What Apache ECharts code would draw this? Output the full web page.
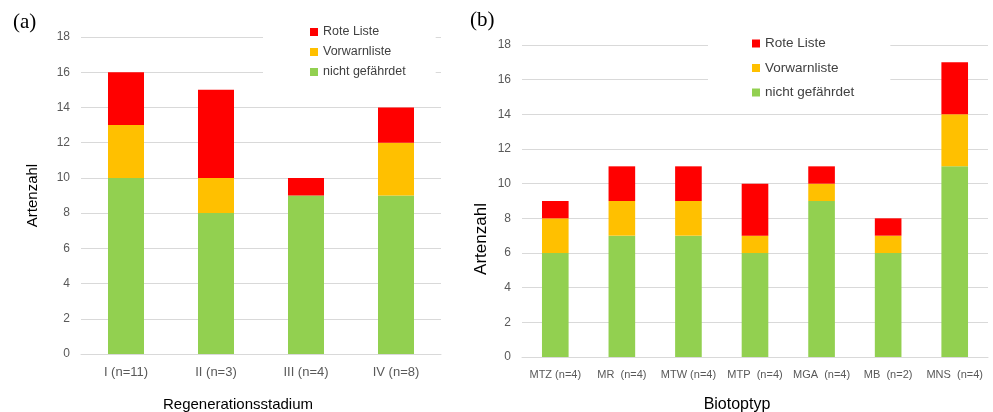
<!DOCTYPE html>
<html>
<head>
<meta charset="utf-8">
<script src="https://cdn.jsdelivr.net/npm/echarts@6/dist/echarts.min.js"></script>
<style>
    html, body { margin: 0; padding: 0; background: #fff; }
    #chart { width: 993px; height: 412px; }
</style>
</head>
<body>
<div id="chart"></div>
<script>
    // (a) Regenerationsstadium
    var stadiumLabels = ['I (n=11)', 'II (n=3)', 'III (n=4)', 'IV (n=8)'];
    var stadiumGreen = [10, 8, 9, 9];
    var stadiumYellow = [3, 2, 0, 3];
    var stadiumRed = [3, 5, 1, 2];

    // (b) Biotoptyp
    var biotopLabels = ['MTZ (n=4)', 'MR  (n=4)', 'MTW (n=4)', 'MTP  (n=4)', 'MGA  (n=4)', 'MB  (n=2)', 'MNS  (n=4)'];
    var biotopGreen = [6, 7, 7, 6, 9, 6, 11];
    var biotopYellow = [2, 2, 2, 1, 1, 1, 3];
    var biotopRed = [1, 2, 2, 3, 1, 1, 3];

    var legendNames = ['Rote Liste', 'Vorwarnliste', 'nicht gefährdet'];
    var colors = { green: '#92D050', yellow: '#FFC000', red: '#FF0000' };
    var font = 'Liberation Sans, Arial, sans-serif';

    var myChart = echarts.init(document.getElementById('chart'));

    function yAxisOf(gridIndex, gap, pad, size) {
        return {
            type: 'value',
            gridIndex: gridIndex,
            min: 0,
            max: 18,
            interval: 2,
            name: 'Artenzahl',
            nameLocation: 'middle',
            nameGap: gap,
            nameTextStyle: { color: '#000', fontSize: size, fontFamily: font, padding: pad },
            axisLine: { show: false },
            axisTick: { show: false },
            axisLabel: { color: '#595959', fontSize: 12, fontFamily: font, margin: 11 },
            splitLine: { lineStyle: { color: '#D9D9D9', width: 1 } }
        };
    }

    function xAxisOf(gridIndex, data, name, gap, pad, size, labelSize) {
        return {
            type: 'category',
            gridIndex: gridIndex,
            data: data,
            name: name,
            nameLocation: 'middle',
            nameGap: gap,
            nameTextStyle: { color: '#000', fontSize: size, fontFamily: font, padding: pad },
            axisLine: { lineStyle: { color: '#D9D9D9' } },
            axisTick: { show: false },
            axisLabel: { color: '#595959', fontSize: labelSize, fontFamily: font, interval: 0, margin: 12 }
        };
    }

    function barSeries(name, data, color, idx, stack) {
        return {
            name: name,
            type: 'bar',
            stack: stack,
            xAxisIndex: idx,
            yAxisIndex: idx,
            barWidth: '40%',
            itemStyle: { color: color },
            data: data
        };
    }

    var option = {
        animation: false,
        backgroundColor: '#fff',
        title: [
            { text: '(a)', left: 8, top: 7, textStyle: { fontFamily: 'Liberation Serif, serif', fontWeight: 'normal', fontSize: 21, color: '#000' } },
            { text: '(b)', left: 465, top: 5, textStyle: { fontFamily: 'Liberation Serif, serif', fontWeight: 'normal', fontSize: 21, color: '#000' } }
        ],
        legend: [
            {
                data: legendNames,
                orient: 'vertical',
                left: 263,
                top: 15,
                padding: [10, 30, 10, 47],
                backgroundColor: '#fff',
                itemWidth: 8,
                itemHeight: 8,
                itemGap: 6,
                icon: 'rect',
                textStyle: { color: '#404040', fontSize: 12.5, fontFamily: font, lineHeight: 14 }
            },
            {
                data: legendNames,
                orient: 'vertical',
                left: 708,
                top: 26,
                padding: [10, 36, 8, 44],
                backgroundColor: '#fff',
                itemWidth: 8,
                itemHeight: 8,
                itemGap: 9.5,
                icon: 'rect',
                textStyle: { color: '#404040', fontSize: 13.5, fontFamily: font, lineHeight: 15 }
            }
        ],
        grid: [
            { left: 81, right: 552, top: 37, bottom: 58, outerBoundsMode: 'none' },
            { left: 522, right: 5, top: 45, bottom: 55, outerBoundsMode: 'none' }
        ],
        xAxis: [
            xAxisOf(0, stadiumLabels, 'Regenerationsstadium', 43, [0, 46, 0, 0], 15, 13),
            xAxisOf(1, biotopLabels, 'Biotoptyp', 40, [0, 36, 0, 0], 16, 11)
        ],
        yAxis: [
            yAxisOf(0, 41, [0, 0, 0, 0], 15),
            yAxisOf(1, 32, [0, 76, 0, 0], 17)
        ],
        series: [
            barSeries('nicht gefährdet', stadiumGreen, colors.green, 0, 'a'),
            barSeries('Vorwarnliste', stadiumYellow, colors.yellow, 0, 'a'),
            barSeries('Rote Liste', stadiumRed, colors.red, 0, 'a'),
            barSeries('nicht gefährdet', biotopGreen, colors.green, 1, 'b'),
            barSeries('Vorwarnliste', biotopYellow, colors.yellow, 1, 'b'),
            barSeries('Rote Liste', biotopRed, colors.red, 1, 'b')
        ]
    };

    myChart.setOption(option);
</script>
</body>
</html>
